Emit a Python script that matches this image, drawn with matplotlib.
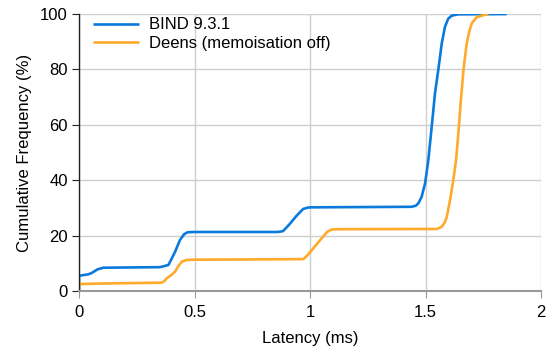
import matplotlib
matplotlib.use("Agg")
import matplotlib.pyplot as plt

plt.rcParams['font.family'] = ['Liberation Sans', 'DejaVu Sans']

bind_x = [0.0, 0.0, 0.04, 0.055, 0.08, 0.105, 0.35, 0.37, 0.387, 0.40, 0.416, 0.437, 0.455, 0.47, 0.50,
          0.86, 0.883, 0.91, 0.94, 0.97, 0.99, 1.0, 1.44, 1.458, 1.469, 1.483, 1.498, 1.512, 1.525,
          1.541, 1.555, 1.57, 1.584, 1.598, 1.613, 1.64, 1.851]
bind_y = [0.0, 5.5, 6.0, 6.5, 7.8, 8.4, 8.6, 9.0, 9.4, 11.5, 14.2, 18.4, 20.5, 21.2, 21.3,
          21.3, 21.6, 24.0, 27.0, 29.6, 30.1, 30.2, 30.4, 30.8, 31.7, 34.0, 38.9, 47.3, 58.0,
          71.5, 79.8, 89.4, 95.4, 98.3, 99.4, 99.9, 100.0]

deens_x = [0.0, 0.0, 0.1, 0.358, 0.37, 0.38, 0.40, 0.416, 0.43, 0.445, 0.466, 0.50, 0.971, 0.99,
           1.02, 1.05, 1.075, 1.094, 1.12, 1.55, 1.57, 1.582, 1.592, 1.606, 1.62, 1.632, 1.642,
           1.652, 1.664, 1.678, 1.69, 1.70, 1.72, 1.75, 1.772]
deens_y = [0.0, 2.5, 2.7, 3.0, 3.6, 4.6, 5.8, 7.0, 9.0, 10.6, 11.2, 11.3, 11.5, 13.0,
           16.0, 19.0, 21.4, 22.2, 22.3, 22.4, 23.2, 24.6, 26.8, 32.9, 40.0, 47.3, 57.0,
           68.0, 79.8, 89.4, 94.0, 96.6, 98.8, 99.6, 100.0]

labels = ['BIND 9.3.1', 'Deens (memoisation off)']
colors = ['#0A7ADB', '#FFAA2B']

fig = plt.figure(figsize=(5.46, 3.51), dpi=100)
ax = fig.add_axes([0.1447, 0.171, 0.8463, 0.789])

ax.plot(bind_x, bind_y, color=colors[0], lw=1.9, label=labels[0], solid_capstyle='butt')
ax.plot(deens_x, deens_y, color=colors[1], lw=1.9, label=labels[1], solid_capstyle='butt')

ax.set_xlim(0, 2)
ax.set_ylim(0, 100)
ax.set_xticks([0, 0.5, 1, 1.5, 2])
ax.set_xticklabels(['0', '0.5', '1', '1.5', '2'])
ax.set_yticks([0, 20, 40, 60, 80, 100])
ax.grid(True, color='#cfcfcf', lw=1.0)
ax.set_axisbelow(True)

for s in ['top', 'right']:
    ax.spines[s].set_visible(False)
ax.spines['left'].set_color('#222222')
ax.spines['left'].set_linewidth(1.0)
ax.spines['bottom'].set_color('#999999')
ax.spines['bottom'].set_linewidth(1.5)
ax.tick_params(axis='y', direction='out', length=5, color='#222222', labelsize=12, pad=3)
ax.tick_params(axis='x', direction='out', length=5, color='#999999', labelsize=12, pad=5)

ax.set_xlabel('Latency (ms)', fontsize=12, labelpad=8)
ax.set_ylabel('Cumulative Frequency (%)', fontsize=12, labelpad=6)

leg = ax.legend(loc='upper left', frameon=False, fontsize=12, handlelength=2.76,
                handletextpad=0.6, labelspacing=0.2, borderaxespad=0.0, borderpad=0.4,
                bbox_to_anchor=(0.0158, 1.012))

fig.savefig('out.png', dpi=100)
